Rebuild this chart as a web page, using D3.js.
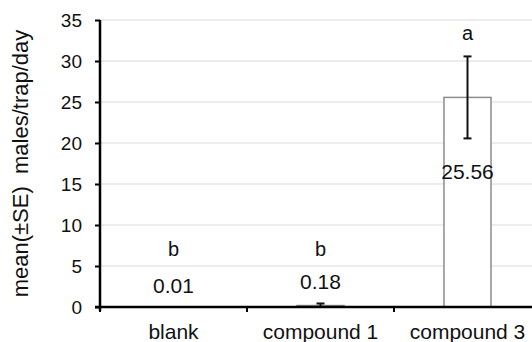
<!DOCTYPE html>
<html><head><meta charset="utf-8">
<script src="https://cdn.jsdelivr.net/npm/d3@7"></script>
<style>body{margin:0;background:#fff}svg{display:block}text{font-family:"Liberation Sans",Arial,sans-serif;fill:#111}</style>
</head><body><svg id="c" width="532" height="342"></svg>
<script>
const categories = ["blank", "compound 1", "compound 3"];
const means = [0.01, 0.18, 25.56];
const errors = [0.01, 0.25, 5.0];
const valueLabels = ["0.01", "0.18", "25.56"];
const letters = ["b", "b", "a"];
const yTicks = [0, 5, 10, 15, 20, 25, 30, 35];
const yTitle = "mean(±SE)  males/trap/day";

const svg = d3.select("#c");
const x0 = 100, xEnd = 541, yTop = 20, yBot = 307;
const x = d3.scaleBand().domain(categories).range([x0, xEnd]).paddingInner(0.68).paddingOuter(0.34);
const y = d3.scaleLinear().domain([0, 35]).range([yBot, yTop]);

// gridlines
svg.append("g").selectAll("line").data(yTicks.filter(t => t > 0)).join("line")
  .attr("x1", x0).attr("x2", 532).attr("y1", d => y(d)).attr("y2", d => y(d))
  .attr("stroke", "#d9d9d9").attr("stroke-width", 1);

// bars
svg.append("g").selectAll("rect").data(categories).join("rect")
  .attr("x", d => x(d)).attr("width", x.bandwidth())
  .attr("y", (d, i) => y(means[i])).attr("height", (d, i) => yBot - y(means[i]))
  .attr("fill", "#fff").attr("stroke", "#8c8c8c").attr("stroke-width", 1.5);

// error bars
const eg = svg.append("g").attr("stroke", "#111").attr("stroke-width", 2);
categories.forEach((c, i) => {
  const cx = x(c) + x.bandwidth() / 2;
  const t = y(means[i] + errors[i]), b = y(Math.max(0, means[i] - errors[i]));
  if (b - t < 1) return;
  eg.append("line").attr("x1", cx).attr("x2", cx).attr("y1", t).attr("y2", b);
  eg.append("line").attr("x1", cx - 4).attr("x2", cx + 4).attr("y1", t).attr("y2", t);
  eg.append("line").attr("x1", cx - 4).attr("x2", cx + 4).attr("y1", b).attr("y2", b);
});

// axes
const yAxis = d3.axisLeft(y).tickValues(yTicks).tickSize(5).tickPadding(13).tickFormat(d3.format("d"));
const ya = svg.append("g").attr("transform", `translate(${x0},0)`).call(yAxis);
ya.select(".domain").attr("stroke", "#000").attr("stroke-width", 2.5).attr("d", `M0,${yTop}V${yBot + 4}`);
ya.selectAll(".tick line").attr("stroke", "#000").attr("stroke-width", 2);
ya.selectAll(".tick text").style("font-size", "19px").attr("fill", "#111");

const xTickPos = [x0, x0 + x.step(), x0 + 2 * x.step(), xEnd];
const xa = svg.append("g");
xa.append("line").attr("x1", x0 - 5).attr("x2", xEnd).attr("y1", yBot).attr("y2", yBot)
  .attr("stroke", "#000").attr("stroke-width", 2.5);
xa.selectAll(".xt").data(xTickPos).join("line").attr("class", "xt")
  .attr("x1", d => d).attr("x2", d => d).attr("y1", yBot).attr("y2", yBot + 5)
  .attr("stroke", "#000").attr("stroke-width", 2);
xa.selectAll("text").data(categories).join("text")
  .attr("x", d => x(d) + x.bandwidth() / 2).attr("y", 339)
  .attr("text-anchor", "middle").style("font-size", "21px").text(d => d);

// value labels
svg.append("g").selectAll("text").data(categories).join("text")
  .attr("x", d => x(d) + x.bandwidth() / 2)
  .attr("y", (d, i) => {
    const lo = y(Math.max(0, means[i] - errors[i]));
    return means[i] > 5 ? lo + 41 : y(means[i] + errors[i]) - 14;
  })
  .attr("text-anchor", "middle").style("font-size", "21px").text((d, i) => valueLabels[i]);

// significance letters
svg.append("g").selectAll("text").data(categories).join("text")
  .attr("x", d => x(d) + x.bandwidth() / 2)
  .attr("y", (d, i) => y(Math.max(means[i] + errors[i], 4.3)) - 16)
  .attr("text-anchor", "middle").style("font-size", "20px").text((d, i) => letters[i]);

// y title
svg.append("text").attr("transform", `translate(28,${(yTop + yBot) / 2}) rotate(-90)`)
  .attr("text-anchor", "middle").style("font-size", "22px").attr("xml:space", "preserve")
  .style("white-space", "pre").text(yTitle);
</script></body></html>
